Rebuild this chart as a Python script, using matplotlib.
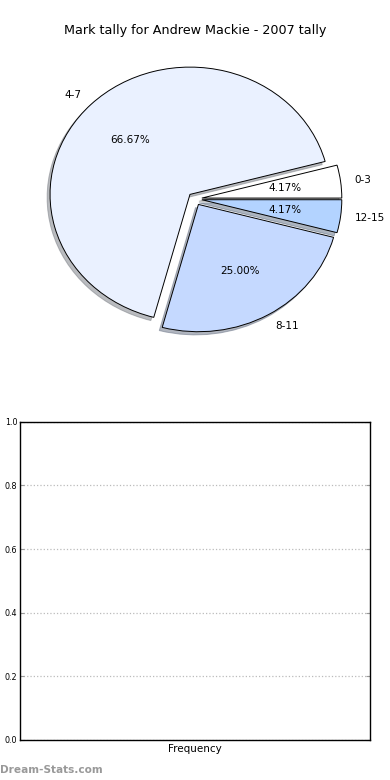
import matplotlib
matplotlib.use("Agg")
import matplotlib.pyplot as plt

categories = ["0-3", "4-7", "8-11", "12-15"]
counts = [1, 16, 6, 1]
slice_colors = ["#ffffff", "#eaf1ff", "#c5d9ff", "#b3d3ff"]
explode = [0.05, 0.05, 0.05, 0.05]
title = "Mark tally for Andrew Mackie - 2007 tally"
yticks = [0.0, 0.2, 0.4, 0.6, 0.8, 1.0]
ytick_labels = ["0.0", "0.2", "0.4", "0.6", "0.8", "1.0"]

fig = plt.figure(figsize=(3.9, 7.8), dpi=100)

ax1 = fig.add_axes([0.0513, 0.541, 0.897, 0.408])
wedges, texts, autotexts = ax1.pie(
    counts, labels=categories, colors=slice_colors, explode=explode,
    autopct="%.2f%%", shadow=dict(ox=-0.015, oy=-0.018, shade=0.5),
    startangle=0, counterclock=True,
    labeldistance=1.1, pctdistance=0.6,
    wedgeprops=dict(edgecolor="black", linewidth=0.7),
    textprops=dict(fontsize=7.5))
ax1.set_aspect("auto")
ax1.set_xlim(-1.25, 1.25)
ax1.set_ylim(-1.25, 1.25)
ax1.set_title(title, fontsize=9.2, pad=4)

ax2 = fig.add_axes([0.0513, 0.0513, 0.897, 0.408])
ax2.set_ylim(0, 1)
ax2.set_xlim(0, 1)
ax2.set_yticks(yticks)
ax2.set_yticklabels(ytick_labels, fontsize=5.8)
ax2.set_xticks([])
ax2.set_xlabel("Frequency", fontsize=7.5, labelpad=3)
ax2.yaxis.grid(True, linestyle=":", color="#bbbbbb", linewidth=0.9)
ax2.tick_params(axis="y", direction="in", length=3, color="#999999",
                right=True, pad=2)
for s in ax2.spines.values():
    s.set_linewidth(1.0)

fig.text(0.0, 0.006, "Dream-Stats.com", fontsize=7.6, color="#999999",
         fontweight="bold", ha="left", va="bottom")

fig.savefig("out.png", dpi=100)
